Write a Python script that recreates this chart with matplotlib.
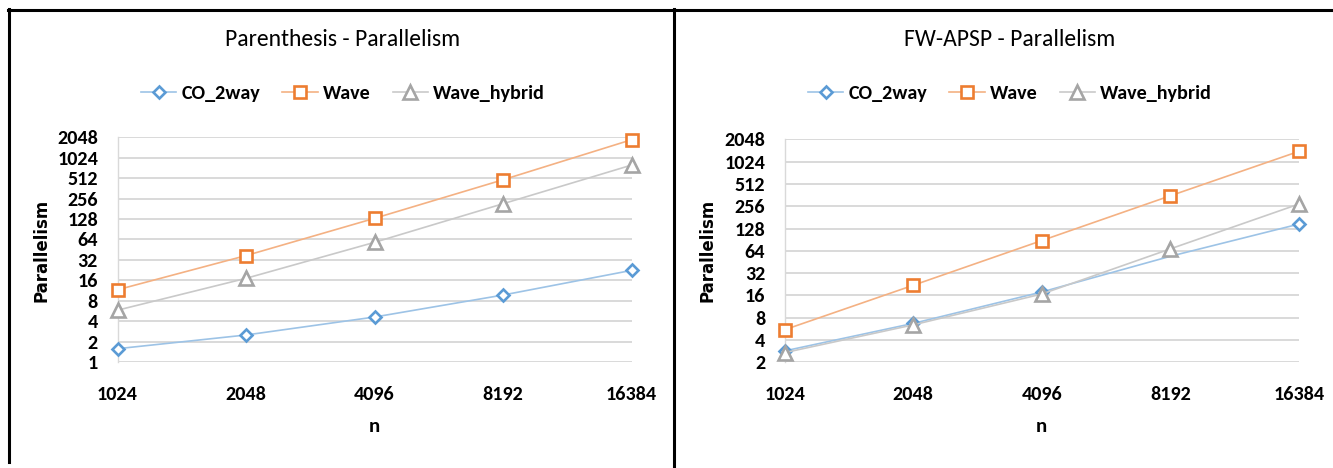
import matplotlib
matplotlib.use("Agg")
import matplotlib.pyplot as plt
from matplotlib import font_manager
from matplotlib.lines import Line2D

# ---- data ----
n_labels = ["1024", "2048", "4096", "8192", "16384"]
series_names = ["CO_2way", "Wave", "Wave_hybrid"]

paren_co2way = [1.57, 2.5, 4.6, 9.7, 22.4]
paren_wave = [11.6, 37, 131, 485, 1887]
paren_hybrid = [5.8, 17.1, 58, 215, 798]

fw_co2way = [2.85, 6.7, 17.8, 54, 147]
fw_wave = [5.5, 21.9, 88, 354, 1409]
fw_hybrid = [2.7, 6.4, 16.7, 68, 274]

paren_yticks = [1, 2, 4, 8, 16, 32, 64, 128, 256, 512, 1024, 2048]
fw_yticks = [2, 4, 8, 16, 32, 64, 128, 256, 512, 1024, 2048]

titles = ["Parenthesis - Parallelism", "FW-APSP - Parallelism"]

# ---- fonts ----
avail = {f.name for f in font_manager.fontManager.ttflist}
narrow = next((f for f in ["Carlito", "Liberation Sans Narrow", "Lato", "Open Sans"] if f in avail), "DejaVu Sans")

W, H = 1333, 468
fig = plt.figure(figsize=(W / 100, H / 100), dpi=100)

styles = [
    dict(marker="D", ms=6.0, mec="#5B9BD5", color="#9DC3E6"),
    dict(marker="s", ms=9.0, mec="#ED7D31", color="#F4B183"),
    dict(marker="^", ms=9.5, mec="#A5A5A5", color="#C9C9C9"),
]

panels = [
    dict(rect=[117.5, 137.3, 631.6, 362.0], data=[paren_co2way, paren_wave, paren_hybrid],
         yticks=paren_yticks, center=343, ylab_x=41, mark_co=None),
    dict(rect=[784.6, 139.3, 1299.0, 362.3], data=[fw_co2way, fw_wave, fw_hybrid],
         yticks=fw_yticks, center=1010, ylab_x=708, mark_co=[0, 1, 2, 4]),
]

for i, p in enumerate(panels):
    x0, y0, x1, y1 = p["rect"]
    ax = fig.add_axes([x0 / W, 1 - y1 / H, (x1 - x0) / W, (y1 - y0) / H])
    xs = list(range(len(n_labels)))
    handles = []
    for j, (vals, st) in enumerate(zip(p["data"], styles)):
        me = p["mark_co"] if (j == 0 and p["mark_co"] is not None) else None
        h, = ax.plot(xs, vals, color=st["color"], lw=1.2, marker=st["marker"], ms=st["ms"],
                     mec=st["mec"], mfc="white", mew=1.9, markevery=me, clip_on=False,
                     zorder=3 + j, label=series_names[j])
        handles.append(h)
    ax.set_yscale("log", base=2)
    ax.set_ylim(p["yticks"][0], p["yticks"][-1])
    ax.set_xlim(0, len(n_labels) - 1)
    ax.set_yticks(p["yticks"])
    ax.set_yticklabels([str(t) for t in p["yticks"]])
    ax.minorticks_off()
    ax.set_xticks(xs)
    ax.set_xticklabels(n_labels)
    ax.tick_params(axis="both", length=0, labelsize=14.5)
    ax.tick_params(axis="y", pad=14)
    ax.tick_params(axis="x", pad=17)
    for lab in ax.get_xticklabels() + ax.get_yticklabels():
        lab.set_fontfamily(narrow)
        lab.set_fontweight("bold")
    ax.grid(axis="y", color="#D9D9D9", lw=1.4)
    ax.set_axisbelow(True)
    for s in ["top", "right", "bottom"]:
        ax.spines[s].set_visible(False)
    ax.spines["left"].set_color("#D9D9D9")
    ax.spines["left"].set_linewidth(1.0)
    ax.set_xlabel("n", fontfamily=narrow, fontweight="bold", fontsize=15, labelpad=11)
    fig.text(p["ylab_x"] / W, 1 - 250 / H, "Parallelism", rotation=90, ha="center", va="center",
             fontfamily="DejaVu Sans", fontweight="bold", fontsize=12)
    fig.text(p["center"] / W, 1 - 40 / H, titles[i], ha="center", va="center",
             fontfamily=narrow, fontsize=17)
    fig.legend(handles=handles, loc="center", bbox_to_anchor=(p["center"] / W, 1 - 93 / H),
               ncol=3, frameon=False, handlelength=1.75, handletextpad=0.25, columnspacing=1.1,
               prop=dict(family=narrow, weight="bold", size=14.5))

# ---- frame lines ----
lw = 2.2
fig.add_artist(Line2D([8 / W, 1.0], [1 - 9.5 / H, 1 - 9.5 / H], color="black", lw=lw, transform=fig.transFigure))
fig.add_artist(Line2D([8.5 / W, 8.5 / W], [1 - 9 / H, 1 - 462 / H], color="black", lw=lw, transform=fig.transFigure))
fig.add_artist(Line2D([674 / W, 674 / W], [1 - 9 / H, 1 - 466 / H], color="black", lw=lw, transform=fig.transFigure))

fig.savefig("out.png", dpi=100)
